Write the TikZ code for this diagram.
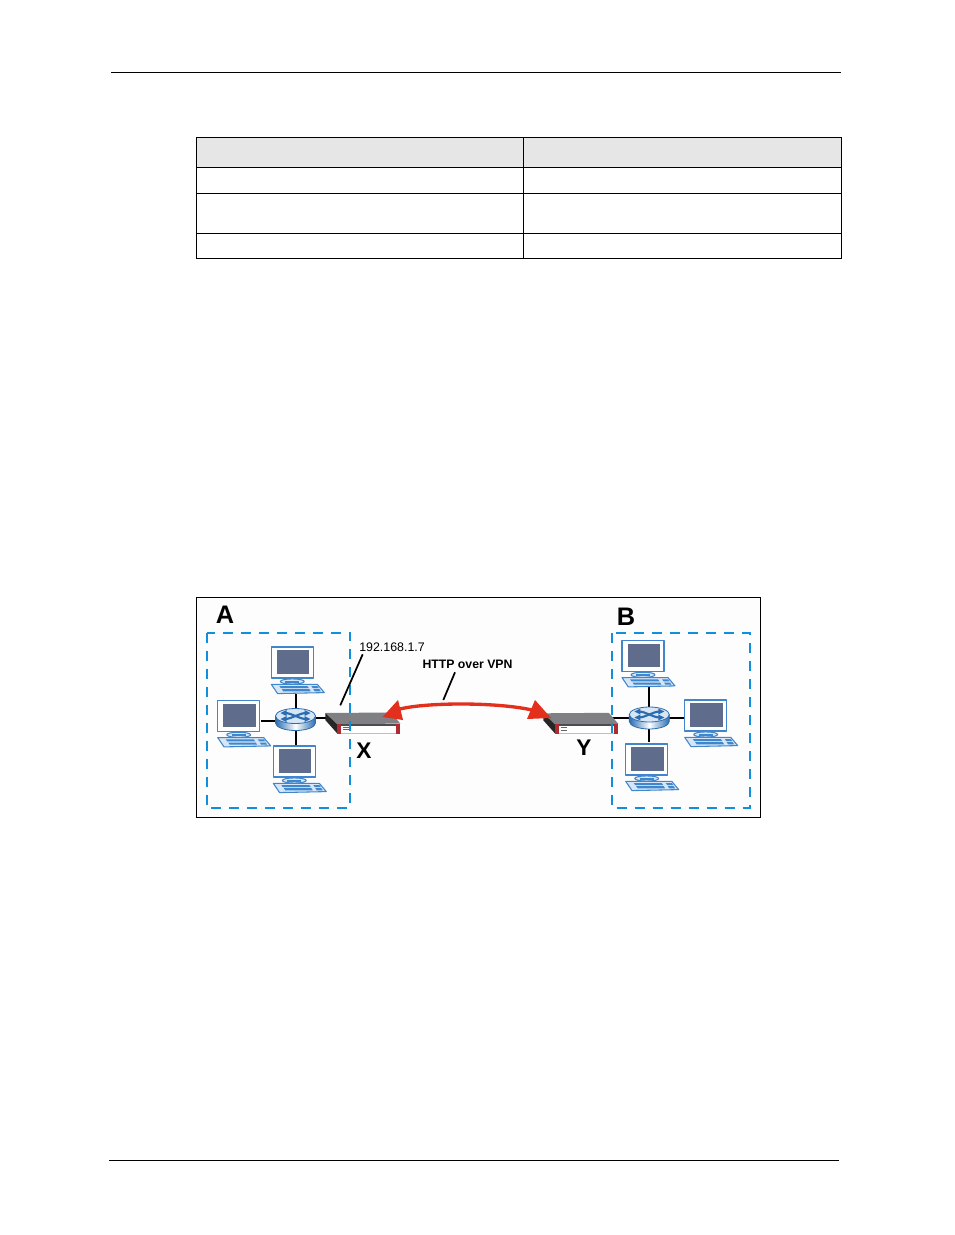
\documentclass[tikz,border=0pt]{standalone}
\usepackage{fontspec}
\setmainfont{Liberation Sans}
\usetikzlibrary{calc}
\definecolor{netblue}{HTML}{0F8FDC}
\definecolor{pcline}{HTML}{3F86CC}
\definecolor{pcscreen}{HTML}{5F6C8C}
\definecolor{pclight}{HTML}{D6E6F6}
\definecolor{hdrgray}{HTML}{E6E6E6}
\definecolor{arrowred}{HTML}{E2301C}
\definecolor{devred}{HTML}{B02A30}
\definecolor{devgray}{HTML}{808084}
\definecolor{rblue}{HTML}{5E97CF}
\definecolor{rdark}{HTML}{2C6DB0}
\tikzset{
  rule/.style={line width=0.75pt,black},
  tbl/.style={line width=0.8pt,black},
  netbox/.style={draw=netblue,line width=1.7pt,dash pattern=on 7.5pt off 6pt},
  wire/.style={line width=1.5pt,black},
  callout/.style={line width=1.3pt,black},
  pcedge/.style={draw=pcline,line width=0.8pt,line join=round},
  pc/.pic={
    \fill[pclight] (0,0) rectangle (42,32);
    \draw[pcedge,fill=white] (0,0) rectangle (42,31);
    \fill[pcscreen] (5.5,3.3) rectangle (38,26.5);
    \draw[pcedge,fill=pclight] (21,34.5) ellipse (12 and 2.6);
    \fill[pcline] (14,33.5) rectangle (28,35.5);
    \draw[pcedge,fill=pclight] (0,37.3) -- (46,37.3) -- (53,45.6) -- (6.3,46.6) -- cycle;
    \fill[pcline] (8,39) -- (36,39) -- (37.5,41) -- (9.5,41) -- cycle;
    \fill[pcline] (40,39) -- (46,39) -- (47.5,41) -- (41.5,41) -- cycle;
    \fill[pcline] (10.5,42.2) -- (38,42.2) -- (39.5,44.4) -- (12,44.4) -- cycle;
    \fill[pcline] (42,42.2) -- (48,42.2) -- (49.5,44.4) -- (43.5,44.4) -- cycle;
  },
  routerpic/.pic={
    \shade[left color=rdark,right color=rdark,middle color=white]
      (-20,-3) -- (-20,4) arc[start angle=180,end angle=0,x radius=20,y radius=7.5] -- (20,-3) -- cycle;
    \draw[rdark,line width=0.6pt] (-20,-3) -- (-20,4) arc[start angle=180,end angle=0,x radius=20,y radius=7.5] -- (20,-3);
    \draw[rdark,line width=0.6pt,fill=pclight] (0,-3) ellipse (20 and 7.5);
    \draw[rdark,line width=1.6pt] (-11,-6) .. controls (-3,-6) and (3,0) .. (11,0);
    \draw[rdark,line width=1.6pt] (-11,0) .. controls (-3,0) and (3,-6) .. (11,-6);
    \fill[rdark] (-15,-6) -- (-9,-9) -- (-9,-3) -- cycle;
    \fill[rdark] (-15,0) -- (-9,-3) -- (-9,3) -- cycle;
    \fill[rdark] (15,-6) -- (9,-9) -- (9,-3) -- cycle;
    \fill[rdark] (15,0) -- (9,-3) -- (9,3) -- cycle;
  },
  device/.pic={
    \fill[devgray] (0,0) -- (65.5,-0.5) -- (75,10.5) -- (12,11.5) -- cycle;
    \fill[black!85] (0,0) -- (12,11.5) -- (12,20.5) -- (0,7) -- cycle;
    \fill[black!70] (11.5,11) rectangle (75,12.5);
    \fill[black!25] (11.5,19.5) rectangle (75,20.5);
    \fill[white] (16,12.5) rectangle (71,19.5);
    \fill[devred] (11.5,11) rectangle (16,20.5);
    \fill[devred] (71,11) rectangle (75,20.5);
    \fill[black!60] (18,14) rectangle (24,15);
    \fill[black!60] (18,16.2) rectangle (24,17.2);
  },
}
\begin{document}
\begin{tikzpicture}[x=0.75pt,y=-0.75pt]
\useasboundingbox (0,0) rectangle (954,1235);
\fill[white] (0,0) rectangle (954,1235);
% page rules
\coordinate (hl) at (111,72); \coordinate (hr) at (841,72);
\coordinate (fl) at (109,1160); \coordinate (fr) at (839,1160);
\draw[rule] (hl) -- (hr);
\draw[rule] (fl) -- (fr);
% table
\fill[hdrgray] (196.5,137.5) rectangle (841.5,167.5);
\draw[tbl] (196.5,137.5) rectangle (841.5,258.5);
\draw[tbl] (523.5,137.5) -- (523.5,258.5);
\draw[tbl] (196.5,167.5) -- (841.5,167.5);
\draw[tbl] (196.5,193.5) -- (841.5,193.5);
\draw[tbl] (196.5,233.5) -- (841.5,233.5);
% figure frame
\draw[line width=0.8pt,black,fill=black!0.7] (196.5,597.5) rectangle (760.5,817.5);
% anchors
\coordinate (ra) at (295.5,719);
\coordinate (rb) at (649.3,717.5);
\coordinate (pcAt) at (295.7,694);
\coordinate (pcAl) at (261,720.7);
\coordinate (pcAb) at (295.7,746);
\coordinate (devX) at (326,718);
\coordinate (pcBt) at (649.3,686);
\coordinate (pcBr) at (685,717.7);
\coordinate (pcBb) at (649.3,742);
\coordinate (devY) at (610,717.7);
% wires
\draw[wire] (pcAt) -- (pcAt |- ra);
\draw[wire] (pcAl) -- (ra |- pcAl);
\draw[wire] (pcAb) -- (pcAb |- ra);
\draw[wire] (devX) -- (ra |- devX);
\draw[wire] (pcBt) -- (pcBt |- rb);
\draw[wire] (pcBr) -- (rb |- pcBr);
\draw[wire] (pcBb) -- (pcBb |- rb);
\draw[wire] (devY) -- (rb |- devY);
% computers
\pic at (271.3,647) {pc};
\pic at (217.7,700.3) {pc};
\pic at (273.3,746) {pc};
\pic at (622,640.3) {pc};
\pic at (684.7,700) {pc};
\pic at (625.7,744) {pc};
% routers
\pic at (ra) {routerpic};
\pic at (rb) {routerpic};
% devices
\pic at (325.3,713) {device};
\pic at (543.3,713.3) {device};
% dashed groups
\draw[netbox] (206.7,632.7) rectangle (350.3,808);
\draw[netbox] (611.7,632.7) rectangle (749.8,807.7);
% labels
\node[font=\fontsize{19}{19}\selectfont\bfseries,inner sep=0pt] (la) at (225,614.5) {A};
\node[font=\fontsize{19}{19}\selectfont\bfseries,inner sep=0pt] (lb) at (626,617) {B};
\node[font=\fontsize{17}{17}\selectfont\bfseries,inner sep=0pt] (lx) at (364,751) {X};
\node[font=\fontsize{17}{17}\selectfont\bfseries,inner sep=0pt] (ly) at (584,748) {Y};
\node[font=\fontsize{9.3}{9.3}\selectfont,inner sep=0pt] (ip) at (392,647) {192.168.1.7};
\node[font=\fontsize{9.2}{9.2}\selectfont\bfseries,inner sep=0pt] (vpn) at (467.5,664) {HTTP over VPN};
% callouts
\coordinate (ipEnd) at (340.3,705.3);
\coordinate (vpnEnd) at (443.3,700);
\draw[callout] (362.7,654.3) -- (ipEnd);
\draw[callout] (455,672.3) -- (vpnEnd);
% red link
\coordinate (tipL) at (382.5,717);
\coordinate (tipR) at (551,718);
\draw[arrowred,line width=2.5pt] (398,709.5) .. controls (425,702) and (500,702) .. (534,710.5);
\fill[arrowred] (tipL) -- (398,700) -- (403,720) -- cycle;
\fill[arrowred] (tipR) -- (535,700) -- (527,719) -- cycle;
\end{tikzpicture}
\end{document}
